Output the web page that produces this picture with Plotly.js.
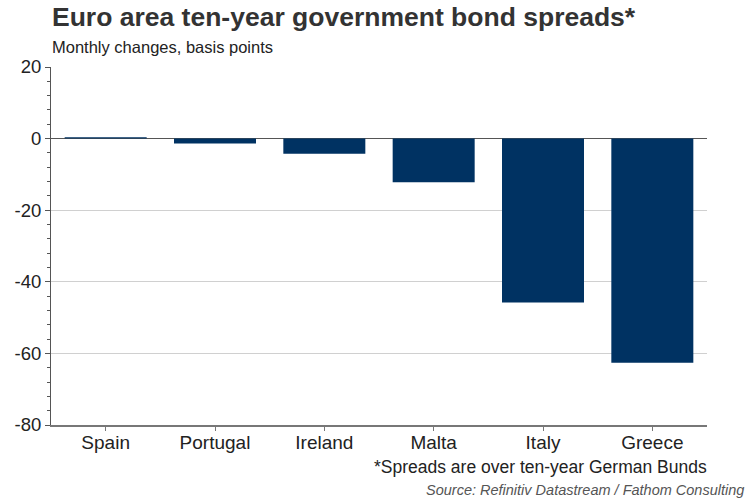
<!DOCTYPE html>
<html><head><meta charset="utf-8">
<script src="https://cdn.plot.ly/plotly-3.0.1.min.js"></script>
<style>html,body{margin:0;padding:0;background:#fff}</style>
</head><body><div id="chart" style="width:750px;height:500px"></div>
<script>
const countries = ["Spain", "Portugal", "Ireland", "Malta", "Italy", "Greece"];
const spreadChanges = [0.4, -1.4, -4.2, -12.2, -45.8, -62.6];
const yTickVals = [20, 0, -20, -40, -60, -80];

const FONT = "Liberation Sans, Arial, sans-serif";
const trace = {
  type: "bar", x: countries, y: spreadChanges,
  marker: {color: "#003262", line: {width: 0}},
  hoverinfo: "x+y"
};
// invisible copy used only to draw the category tick marks on an overlaid axis
const tickTrace = {
  type: "bar", x: countries, y: spreadChanges, xaxis: "x2", yaxis: "y",
  marker: {color: "rgba(0,0,0,0)"}, hoverinfo: "skip", showlegend: false
};
const layout = {
  width: 750, height: 500,
  margin: {l: 51, r: 43, t: 67, b: 75},
  paper_bgcolor: "#fff", plot_bgcolor: "#fff",
  bargap: 0.25,
  showlegend: false,
  font: {family: FONT, color: "#222", size: 18},
  xaxis: {
    type: "category", showgrid: false, zeroline: false,
    showline: true, linecolor: "#777", linewidth: 1.5,
    ticks: "", tickfont: {size: 19, color: "#222"}, fixedrange: true
  },
  xaxis2: {
    type: "category", overlaying: "x", side: "bottom", showgrid: false, zeroline: false,
    showline: false, ticks: "outside", ticklen: 5, tickcolor: "#777", tickwidth: 1,
    showticklabels: false, fixedrange: true
  },
  yaxis: {
    range: [-80, 20], tickvals: yTickVals, ticktext: yTickVals.map(String),
    showgrid: true, gridcolor: "#d0d0d0", gridwidth: 1,
    zeroline: true, zerolinecolor: "#555", zerolinewidth: 1,
    showline: true, linecolor: "#555", linewidth: 1,
    ticks: "outside", ticklen: 5, tickcolor: "#555",
    minor: {dtick: 4, ticks: "outside", ticklen: 3, tickcolor: "#555", showgrid: false},
    tickfont: {size: 18.5, color: "#222"}, fixedrange: true
  },
  annotations: [
    {text: "<b>Euro area ten-year government bond spreads*</b>", xref: "paper", yref: "paper",
     x: 0.0, y: 1, xshift: -1, yshift: 33, xanchor: "left", yanchor: "bottom", showarrow: false,
     font: {family: FONT, size: 26.5, color: "#333"}},
    {text: "Monthly changes, basis points", xref: "paper", yref: "paper",
     x: 0, y: 1, xshift: -1, yshift: 9, xanchor: "left", yanchor: "bottom", showarrow: false,
     font: {family: FONT, size: 16.5, color: "#222"}},
    {text: "*Spreads are over ten-year German Bunds", xref: "paper", yref: "paper",
     x: 1, y: 0, xshift: 2, yshift: -54, xanchor: "right", yanchor: "bottom", showarrow: false,
     font: {family: FONT, size: 17.5, color: "#222"}},
    {text: "<i>Source: Refinitiv Datastream / Fathom Consulting</i>", xref: "paper", yref: "paper",
     x: 1, y: 0, xshift: 39, yshift: -75, xanchor: "right", yanchor: "bottom", showarrow: false,
     font: {family: FONT, size: 14.5, color: "#555"}}
  ]
};
Plotly.newPlot("chart", [trace, tickTrace], layout, {displayModeBar: false, staticPlot: true});
</script></body></html>
